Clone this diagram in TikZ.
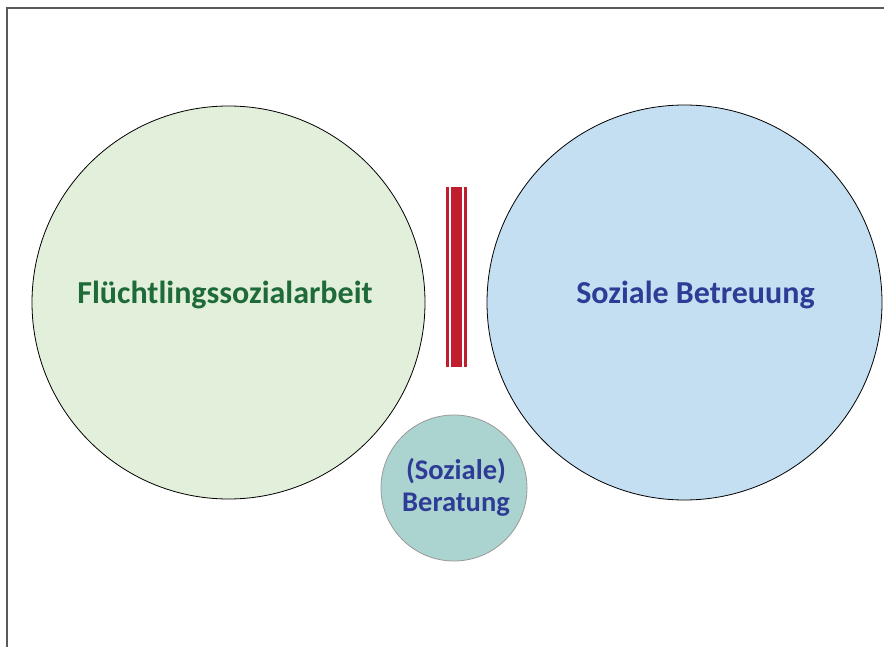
\documentclass[tikz,border=0pt]{standalone}
\usepackage{fontspec}
\setmainfont{Carlito}
\definecolor{lgreen}{RGB}{226,239,218}
\definecolor{dgreen}{RGB}{30,106,56}
\definecolor{lblue}{RGB}{197,223,242}
\definecolor{dblue}{RGB}{46,60,150}
\definecolor{teal}{RGB}{171,211,207}
\definecolor{bred}{RGB}{192,30,46}
\definecolor{frame}{RGB}{90,90,90}
\tikzset{
  bigcircle/.style={circle, draw=black, line width=0.8pt, inner sep=0pt},
  bigtext/.style={font=\bfseries\fontsize{32}{38}\selectfont, inner sep=0pt},
  smallcircle/.style={circle, draw=gray!80, line width=0.8pt, inner sep=0pt, minimum size=146pt, fill=teal},
  smalltext/.style={align=center, text=dblue, inner sep=0pt, font=\bfseries\fontsize{28.5}{32}\selectfont},
  bar/.style={fill=bred, draw=none},
  frameline/.style={draw=frame, line width=1.5pt}
}
\begin{document}
\begin{tikzpicture}[x=1pt,y=-1pt]
\useasboundingbox (0,0) rectangle (884,647);
\coordinate (tl) at (7,8);
\coordinate (tr) at (884,8);
\coordinate (bl) at (7,647);
\draw[frameline] (tr) -- (tl) -- (bl);
\node[bigcircle, minimum size=393pt, fill=lgreen] (fsa) at (228.5,302.5) {};
\node[bigtext, text=dgreen] (fsat) at (225,295) {Flüchtlingssozialarbeit};
\node[bigcircle, minimum size=395pt, fill=lblue] (sb) at (684.5,302.5) {};
\node[bigtext, text=dblue] (sbt) at (695.5,295) {Soziale Betreuung};
\node[smallcircle] (ber) at (454,488) {};
\node[smalltext] (bert) at (456,487) {(Soziale)\\Beratung};
\path[bar] (446,187) rectangle (449,367);
\path[bar] (451,187) rectangle (462,367);
\path[bar] (463.7,187) rectangle (467,367);
\end{tikzpicture}
\end{document}
